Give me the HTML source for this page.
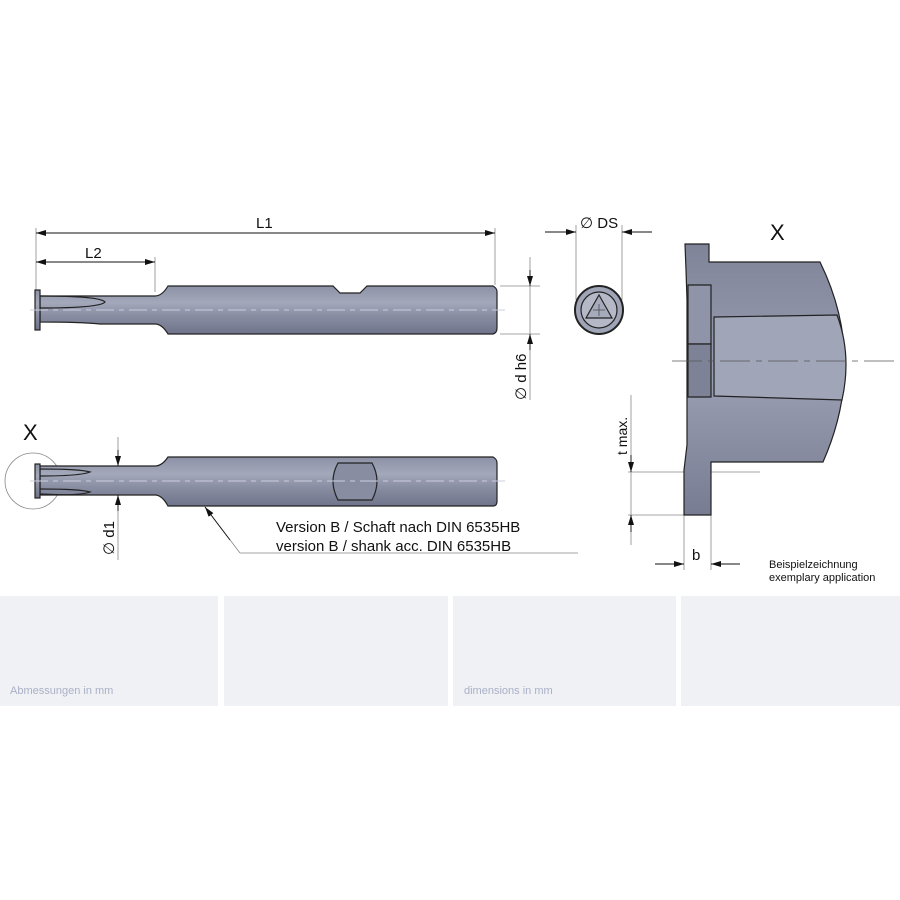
<!DOCTYPE html>
<html><head><meta charset="utf-8"><style>
html,body{margin:0;padding:0;background:#fff}
svg{display:block}
text{font-family:"Liberation Sans",sans-serif;fill:#111}
</style></head><body>
<svg width="900" height="900" viewBox="0 0 900 900" xmlns="http://www.w3.org/2000/svg">
<defs>
<linearGradient id="g" x1="0" y1="0" x2="0" y2="1">
<stop offset="0" stop-color="#8c91a6"/><stop offset="0.35" stop-color="#a3a8ba"/><stop offset="0.6" stop-color="#8a8fa4"/><stop offset="1" stop-color="#6f748a"/>
</linearGradient>
<linearGradient id="gx" x1="0" y1="0" x2="0" y2="1">
<stop offset="0" stop-color="#7f8499"/><stop offset="0.5" stop-color="#999eb2"/><stop offset="1" stop-color="#777c92"/>
</linearGradient>
<marker id="a" viewBox="0 0 10 6" refX="10" refY="3" markerWidth="10" markerHeight="6" orient="auto-start-reverse" markerUnits="userSpaceOnUse"><path d="M0,0L10,3L0,6z" fill="#111"/></marker>
</defs>
<g stroke="#888" stroke-width="0.8" fill="none">
<!-- top tool dims -->
<line x1="36" y1="228" x2="36" y2="296"/><line x1="495" y1="228" x2="495" y2="285"/><line x1="155" y1="257" x2="155" y2="292"/>
<line x1="500" y1="286" x2="540" y2="286"/><line x1="500" y1="334" x2="540" y2="334"/>
<line x1="530" y1="257" x2="530" y2="400"/>
<line x1="576" y1="225" x2="576" y2="300"/><line x1="622" y1="225" x2="622" y2="300"/>
<line x1="118" y1="437" x2="118" y2="560"/>
<line x1="205" y1="507" x2="240" y2="553"/><line x1="240" y1="553" x2="578" y2="553"/>
<circle cx="33" cy="481" r="28"/>
<line x1="631" y1="395" x2="631" y2="545"/>
<line x1="628" y1="472" x2="760" y2="472"/><line x1="628" y1="515" x2="711" y2="515"/>
<line x1="684" y1="515" x2="684" y2="570"/><line x1="711" y1="515" x2="711" y2="570"/>
</g>
<g stroke="#111" stroke-width="0.9" fill="none">
<line x1="36" y1="233" x2="495" y2="233" marker-start="url(#a)" marker-end="url(#a)"/>
<line x1="36" y1="262" x2="155" y2="262" marker-start="url(#a)" marker-end="url(#a)"/>
<line x1="530" y1="270" x2="530" y2="286" marker-end="url(#a)"/>
<line x1="530" y1="350" x2="530" y2="334" marker-end="url(#a)"/>
<line x1="545" y1="232" x2="576" y2="232" marker-end="url(#a)"/>
<line x1="652" y1="232" x2="622" y2="232" marker-end="url(#a)"/>
<line x1="118" y1="450" x2="118" y2="466" marker-end="url(#a)"/>
<line x1="118" y1="511" x2="118" y2="495" marker-end="url(#a)"/>
<line x1="631" y1="455" x2="631" y2="472" marker-end="url(#a)"/>
<line x1="631" y1="532" x2="631" y2="515" marker-end="url(#a)"/>
<line x1="655" y1="564" x2="684" y2="564" marker-end="url(#a)"/>
<line x1="740" y1="564" x2="711" y2="564" marker-end="url(#a)"/>
<line x1="230" y1="540" x2="205" y2="507" marker-end="url(#a)"/>
</g>
<!-- top tool -->
<g stroke="#222" stroke-width="1.2" fill="url(#g)">
<path d="M40,296 L155,296 Q162,296 168,286 L333,286 L340,293 L360,293 L367,286 L493,286 Q497,288 497,292 L497,328 Q497,333 493,334 L168,334 Q162,324 155,324 L100,324 Q80,322 40,322 Z"/>
<rect x="35" y="290" width="5" height="40"/>
<path d="M40,296 Q100,296 105,302 Q100,308 40,308" fill="none"/>
</g>
<line x1="30" y1="310" x2="505" y2="310" stroke="#ccd" stroke-width="1" stroke-dasharray="18,5,5,5"/>
<!-- bottom tool -->
<g stroke="#222" stroke-width="1.2" fill="url(#g)">
<path d="M40,466 L155,466 Q162,466 168,457 L493,457 Q497,459 497,463 L497,501 Q497,506 493,506 L168,506 Q162,495 155,495 L40,495 Z"/>
<rect x="35" y="464" width="5" height="34"/>
<path d="M40,469 Q80,469 90,472 Q80,476 40,476 M40,489 Q80,489 90,492 Q80,496 40,494" fill="none"/>
<path d="M338,463 L372,463 Q382,481 372,500 L338,500 Q328,481 338,463 Z" fill="#888da2"/>
</g>
<line x1="30" y1="481" x2="505" y2="481" stroke="#ccd" stroke-width="1" stroke-dasharray="18,5,5,5"/>
<!-- end view -->
<circle cx="599" cy="310" r="24" fill="#9fa4b6" stroke="#222" stroke-width="2"/>
<circle cx="599" cy="310" r="18" fill="#b4b8c7" stroke="#222" stroke-width="1.2"/>
<path d="M599,295 L612,318 L586,318 Z" fill="#a6abbc" stroke="#222" stroke-width="1.2"/>
<line x1="593" y1="310" x2="605" y2="310" stroke="#333" stroke-width="0.6"/><line x1="599" y1="304" x2="599" y2="316" stroke="#333" stroke-width="0.6"/>
<!-- X detail -->
<g stroke="#222" stroke-width="1.2" fill="url(#gx)">
<path d="M685,244 L709,244 L709,262 L820,262 Q868,360 823,462 L711,462 L711,515 L684,515 L684,470 L687,445 L687,300 L686,270 Z"/>
<path d="M688,285 L711,285 L711,344 L688,344 Z" fill="#8f94a8"/>
<path d="M688,344 L711,344 L711,397 L688,397 Z" fill="#7d8297"/>
<path d="M714,317 L837,315 Q852,355 842,400 L714,396 Z" fill="#a0a5b8"/>
</g>
<line x1="672" y1="361" x2="900" y2="361" stroke="#555" stroke-width="0.8" stroke-dasharray="30,6,6,6"/>
<!-- labels -->
<text x="256" y="228" font-size="15">L1</text>
<text x="85" y="258" font-size="15">L2</text>
<text x="580" y="228" font-size="15">∅ DS</text>
<text x="770" y="240" font-size="22">X</text>
<text x="23" y="440" font-size="22">X</text>
<text font-size="15" transform="translate(526,400) rotate(-90)">∅ d h6</text>
<text font-size="15" transform="translate(114,555) rotate(-90)">∅ d1</text>
<text font-size="14" transform="translate(627,455) rotate(-90)">t max.</text>
<text x="692" y="560" font-size="15">b</text>
<text x="276" y="532" font-size="15">Version B / Schaft nach DIN 6535HB</text>
<text x="276" y="551" font-size="15">version B / shank acc. DIN 6535HB</text>
<text x="769" y="568" font-size="11">Beispielzeichnung</text>
<text x="769" y="581" font-size="11">exemplary application</text>
<!-- panels -->
<rect x="0" y="596" width="218" height="110" fill="#f0f1f5"/>
<rect x="224" y="596" width="224" height="110" fill="#f0f1f5"/>
<rect x="453" y="596" width="223" height="110" fill="#f0f1f5"/>
<rect x="681" y="596" width="219" height="110" fill="#f0f1f5"/>
<text x="10" y="694" font-size="11" style="fill:#aab0c6">Abmessungen in mm</text>
<text x="464" y="694" font-size="11" style="fill:#aab0c6">dimensions in mm</text>
</svg>
</body></html>
